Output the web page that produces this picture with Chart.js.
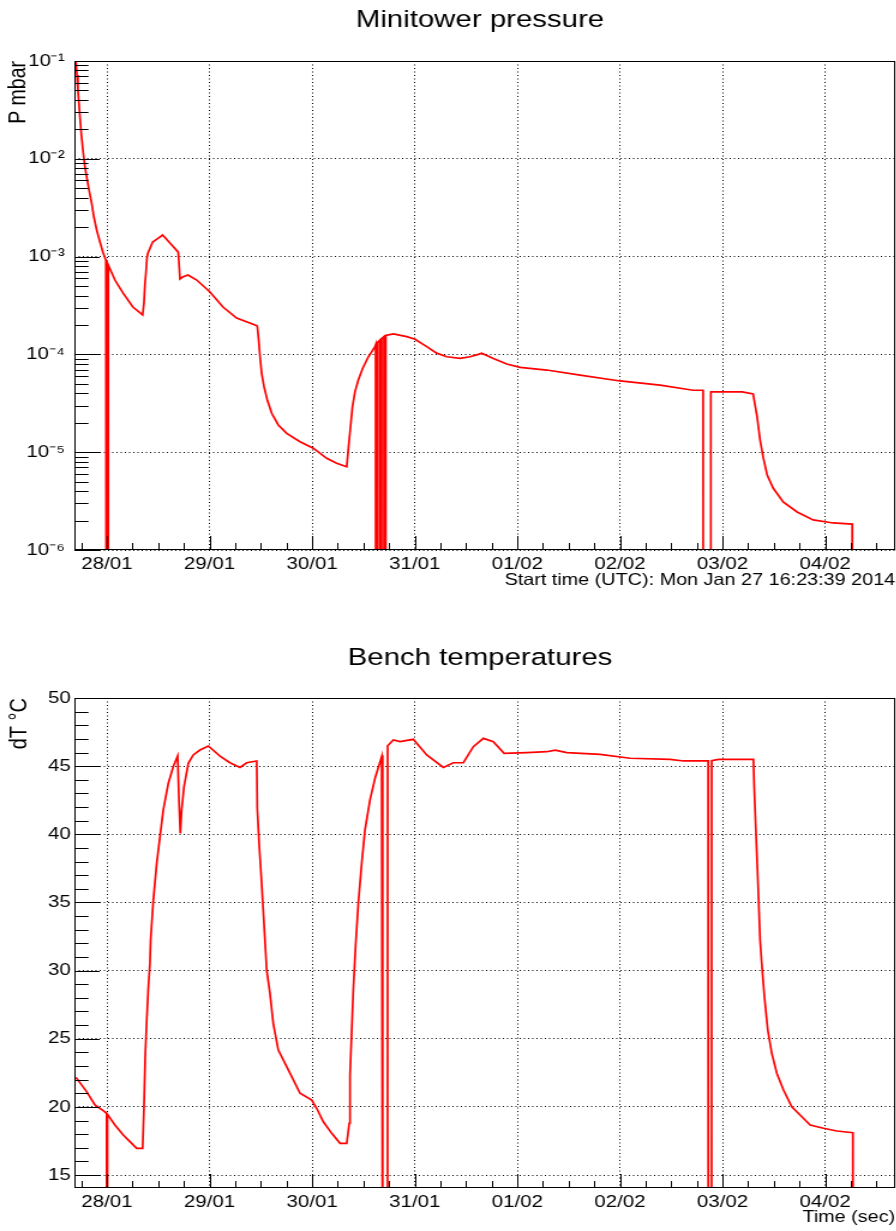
<!DOCTYPE html>
<html>
<head>
<meta charset="utf-8">
<title>Minitower pressure / Bench temperatures</title>
<script src="https://cdn.jsdelivr.net/npm/chart.js@4.4.1/dist/chart.umd.min.js"></script>
<style>
  html, body { margin: 0; padding: 0; background: #fff; }
  .pad { width: 896px; overflow: hidden; position: relative; }
  .pad canvas { display: block; }
</style>
</head>
<body>
<div class="pad" style="height:615px"><canvas id="pressure" width="800" height="615" style="width:960px;height:615px"></canvas></div>
<div class="pad" style="height:616px"><canvas id="bench" width="800" height="616" style="width:960px;height:616px"></canvas></div>
<script>
// time axis: days since 28/01 00:00, run starts Mon Jan 27 16:23:39 2014
const xMin = -0.3169;
const xMax = xMin + 8;
const dayLabels = ["28/01", "29/01", "30/01", "31/01", "01/02", "02/02", "03/02", "04/02"];
const pressureTickLabels = ["10\u207B\u2076", "10\u207B\u2075", "10\u207B\u2074", "10\u207B\u00B3", "10\u207B\u00B2", "10\u207B\u00B9"];

// a reading of 0 is a dropout of the gauge
const pressureTime = [
  -0.302, -0.292, -0.283, -0.273, -0.263, -0.249, -0.231, -0.214, -0.192, -0.171, -0.149, -0.127,
  -0.100, -0.068, -0.039, -0.010, -0.006, -0.005, 0.012, 0.013,
  0.078, 0.156, 0.253, 0.348, 0.361, 0.370, 0.380, 0.390, 0.400, 0.446, 0.487, 0.543,
  0.614, 0.695, 0.712, 0.738, 0.790, 0.875, 1.004, 1.131, 1.264, 1.462,
  1.465, 1.479, 1.492, 1.508, 1.531, 1.563, 1.606, 1.670, 1.752, 1.882, 2.011, 2.142,
  2.239, 2.337, 2.355, 2.374, 2.393, 2.418, 2.450, 2.493, 2.548, 2.613,
  2.619, 2.620, 2.636, 2.637, 2.660, 2.661, 2.677, 2.678, 2.700, 2.701, 2.717, 2.718,
  2.791, 2.922, 3.003, 3.117, 3.214, 3.312, 3.442, 3.539, 3.620, 3.653, 3.766, 3.897,
  4.027, 4.287, 4.612, 5.001, 5.391, 5.713, 5.811, 5.812, 5.885, 5.886, 6.191, 6.298,
  6.337, 6.366, 6.396, 6.435, 6.493, 6.591, 6.727, 6.883, 7.078, 7.264, 7.265
];
const pressureValue = [
  0.098, 0.0719, 0.0505, 0.0373, 0.0267, 0.0175, 0.0115, 0.00824, 0.00607, 0.00458, 0.00353, 0.00254,
  0.00187, 0.00141, 0.00111, 0.00092, 0.00088, 0, 0, 0.00082,
  0.000576, 0.000425, 0.000305, 0.000253, 0.000336, 0.000513, 0.000679, 0.000968, 0.00109, 0.00141, 0.00151, 0.00166,
  0.00138, 0.00111, 0.00059, 0.000618, 0.000648, 0.000576, 0.000435, 0.000305, 0.000235, 0.000196,
  1.95e-4, 1.40e-4, 9.46e-5, 6.41e-5, 4.68e-5, 3.42e-5, 2.50e-5, 1.90e-5, 1.56e-5, 1.28e-5, 1.10e-5, 8.67e-6,
  7.71e-6, 7.11e-6, 1.14e-5, 1.82e-5, 2.92e-5, 4.16e-5, 5.47e-5, 7.21e-5, 9.46e-5, 1.20e-4,
  1.25e-4, 0, 0, 1.32e-4, 1.40e-4, 0, 0, 1.45e-4, 1.52e-4, 0, 0, 1.56e-4,
  1.62e-4, 1.52e-4, 1.43e-4, 1.20e-4, 1.03e-4, 9.46e-5, 9.12e-5, 9.46e-5, 1.0e-4, 1.03e-4, 9.1e-5, 7.98e-5,
  7.36e-5, 6.92e-5, 6.15e-5, 5.35e-5, 4.85e-5, 4.3e-5, 4.3e-5, 0, 0, 4.15e-5, 4.13e-5, 3.95e-5,
  2.3e-5, 1.33e-5, 8.9e-6, 5.85e-6, 4.3e-6, 3.1e-6, 2.45e-6, 2.03e-6, 1.89e-6, 1.84e-6, 0
];

const benchTime = [
  -0.302, -0.198, -0.117, -0.036, -0.003, -0.002, 0.004, 0.005, 0.078, 0.159, 0.224, 0.290,
  0.348, 0.361, 0.373, 0.387, 0.403, 0.419, 0.426, 0.451, 0.485, 0.517, 0.549, 0.598,
  0.646, 0.689, 0.702, 0.715, 0.728, 0.751, 0.793, 0.841, 0.907, 0.988, 1.102, 1.199,
  1.297, 1.362, 1.460, 1.465, 1.485, 1.508, 1.540, 1.557, 1.589, 1.621, 1.670, 1.752,
  1.882, 1.996, 2.044, 2.109, 2.191, 2.272, 2.337, 2.362, 2.369, 2.386, 2.401, 2.425,
  2.450, 2.483, 2.515, 2.564, 2.613, 2.678, 2.687, 2.688, 2.735, 2.736, 2.791, 2.857,
  2.986, 3.117, 3.279, 3.376, 3.474, 3.571, 3.669, 3.766, 3.871, 4.092, 4.287, 4.368,
  4.482, 4.806, 5.099, 5.489, 5.619, 5.860, 5.861, 5.893, 5.894, 5.960, 6.301, 6.308,
  6.324, 6.340, 6.366, 6.382, 6.408, 6.441, 6.480, 6.529, 6.594, 6.675, 6.756, 6.854,
  6.984, 7.114, 7.270, 7.271
];
const benchValue = [
  22.17, 21.12, 20.14, 19.72, 19.53, 0, 0, 19.45, 18.67, 17.94, 17.45, 16.96,
  16.96, 20.01, 23.68, 26.25, 28.70, 30.53, 32.24, 35.06, 37.87, 39.83, 41.78, 43.74,
  44.96, 45.74, 42.52, 40.07, 41.78, 43.49, 45.21, 45.82, 46.18, 46.48, 45.74, 45.25,
  44.91, 45.25, 45.38, 41.91, 39.10, 36.40, 32.24, 30.04, 28.33, 26.13, 24.17, 22.95,
  21.00, 20.50, 19.90, 18.91, 18.06, 17.33, 17.33, 18.80, 22.34, 25.64, 28.58, 32.00,
  34.94, 37.87, 40.32, 42.52, 44.11, 45.70, 45.80, 0, 0, 46.50, 46.92, 46.80,
  46.97, 45.82, 44.91, 45.25, 45.25, 46.43, 47.04, 46.80, 45.94, 45.99, 46.06, 46.18,
  45.99, 45.87, 45.58, 45.50, 45.38, 45.38, 0, 0, 45.40, 45.50, 45.50, 43.60,
  40.44, 37.50, 32.24, 30.53, 28.09, 25.64, 23.93, 22.47, 21.24, 20.01, 19.41, 18.67,
  18.43, 18.23, 18.11, 0
];

Chart.defaults.font.family = "'Liberation Sans', Arial, Helvetica, sans-serif";
Chart.defaults.color = "#000";

// ticks drawn inward from the frame, plus the frame itself
const frameTicks = {
  id: "frameTicks",
  afterDatasetsDraw(chart, args, opts) {
    const { ctx, chartArea: a, scales } = chart;
    ctx.save();
    ctx.strokeStyle = "#000";
    ctx.lineWidth = 1;
    ctx.beginPath();
    scales.x.ticks.forEach((t) => {
      const px = Math.round(scales.x.getPixelForValue(t.value)) + 0.5;
      const len = t.major ? opts.xMajor : opts.xMinor;
      ctx.moveTo(px, a.bottom);
      ctx.lineTo(px, a.bottom - len);
    });
    scales.y.ticks.forEach((t) => {
      const py = Math.round(scales.y.getPixelForValue(t.value)) + 0.5;
      const len = t.major ? opts.yMajor : opts.yMinor;
      ctx.moveTo(a.left, py);
      ctx.lineTo(a.left + len, py);
    });
    ctx.stroke();
    ctx.strokeRect(a.left + 0.5, a.top + 0.5, a.width - 1, a.height - 1);
    ctx.restore();
  },
};

function dayTicks(scale) {
  const ticks = [];
  for (let k = -1; k <= 30; k++) ticks.push({ value: k / 4, major: k % 4 === 0 });
  scale.ticks = ticks;
}

const gridColor = (c) => (c.tick && c.tick.major ? "#000" : "rgba(0,0,0,0)");
const gridDash = [1, 2.5];

function timeAxis(title, height, titlePad) {
  return {
    type: "linear",
    min: xMin,
    max: xMax,
    afterBuildTicks: dayTicks,
    afterFit: (s) => { s.height = height; },
    grid: { color: gridColor, lineWidth: 1, drawTicks: false },
    border: { display: false, dash: gridDash },
    ticks: {
      autoSkip: false, maxRotation: 0, minRotation: 0, padding: 4,
      font: { size: 17 },
      callback: (v) => (Number.isInteger(v) ? dayLabels[v] : ""),
    },
    title: { display: true, text: title, align: "end", font: { size: 16.5 }, padding: { top: 0, bottom: titlePad } },
  };
}

// empty axis on the right keeps the frame's right margin inside the pad
const rightMargin = {
  position: "right",
  afterFit: (s) => { s.width = 54; },
  grid: { display: false },
  border: { display: false },
  ticks: { display: false },
};

function line(time, value, floor) {
  return {
    data: time.map((t, i) => ({ x: t, y: value[i] > 0 ? value[i] : floor })),
    borderColor: "#ff0000",
    borderWidth: 1.7,
    pointRadius: 0,
    tension: 0,
    fill: false,
  };
}

new Chart(document.getElementById("pressure"), {
  type: "line",
  data: { datasets: [line(pressureTime, pressureValue, 1e-9)] },
  plugins: [frameTicks],
  options: {
    responsive: false,
    animation: false,
    devicePixelRatio: 1,
    layout: { padding: 0 },
    plugins: {
      legend: { display: false },
      tooltip: { enabled: false },
      title: { display: true, text: "Minitower pressure", font: { size: 24.5, weight: "normal" }, padding: { top: 6, bottom: 25.6 } },
      frameTicks: { xMajor: 14, xMinor: 7, yMajor: 21, yMinor: 11.7 },
    },
    scales: {
      x: timeAxis("Start time (UTC): Mon Jan 27 16:23:39 2014", 65, 24.4),
      y: {
        type: "logarithmic",
        min: 1e-6,
        max: 1e-1,
        afterBuildTicks: (s) => {
          const ticks = [];
          for (let e = -6; e <= -1; e++) {
            for (let m = 1; m <= (e === -1 ? 1 : 9); m++) ticks.push({ value: m * Math.pow(10, e), major: m === 1 });
          }
          s.ticks = ticks;
        },
        afterFit: (s) => { s.width = 62; },
        grid: { color: gridColor, lineWidth: 1, drawTicks: false },
        border: { display: false, dash: gridDash },
        ticks: {
          autoSkip: false, padding: 8, font: { size: 17 },
          callback: (v) => {
            const e = Math.log10(v);
            return Math.abs(e - Math.round(e)) < 1e-6 ? pressureTickLabels[Math.round(e) + 6] : "";
          },
        },
        title: { display: true, text: "P mbar", align: "end", font: { size: 19.5 }, padding: { top: 4 } },
      },
      yRight: rightMargin,
    },
  },
});

new Chart(document.getElementById("bench"), {
  type: "line",
  data: { datasets: [line(benchTime, benchValue, 0)] },
  plugins: [frameTicks],
  options: {
    responsive: false,
    animation: false,
    devicePixelRatio: 1,
    layout: { padding: 0 },
    plugins: {
      legend: { display: false },
      tooltip: { enabled: false },
      title: { display: true, text: "Bench temperatures", font: { size: 24.5, weight: "normal" }, padding: { top: 29, bottom: 24.6 } },
      frameTicks: { xMajor: 14, xMinor: 7, yMajor: 21, yMinor: 11.7 },
    },
    scales: {
      x: timeAxis("Time (sec)", 43, 3.4),
      y: {
        type: "linear",
        min: 14.05,
        max: 50,
        afterBuildTicks: (s) => {
          const ticks = [];
          for (let v = 15; v <= 50; v++) ticks.push({ value: v, major: v % 5 === 0 });
          s.ticks = ticks;
        },
        afterFit: (s) => { s.width = 62; },
        grid: { color: gridColor, lineWidth: 1, drawTicks: false },
        border: { display: false, dash: gridDash },
        ticks: { autoSkip: false, padding: 3, font: { size: 17 }, callback: (v) => (v % 5 === 0 ? String(v) : "") },
        title: { display: true, text: "dT \u00B0C", align: "end", font: { size: 20 }, padding: { top: 4 } },
      },
      yRight: rightMargin,
    },
  },
});
</script>
</body>
</html>
